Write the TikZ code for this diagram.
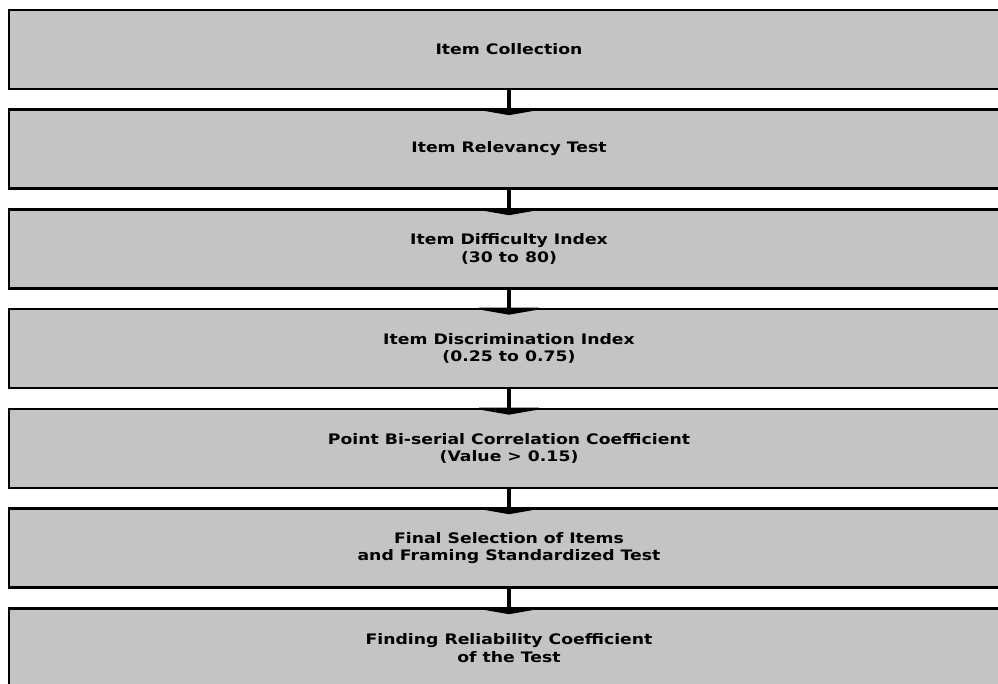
\documentclass[tikz,border=0pt]{standalone}
\usepackage{fontspec}
\setmainfont{DejaVu Sans}[FakeStretch=1.19]
\usetikzlibrary{arrows.meta}
\definecolor{boxgray}{HTML}{C4C4C4}
\begin{document}
\begin{tikzpicture}[x=1pt,y=1pt,
  stepbox/.style={draw=black, line width=2.6pt, fill=boxgray, minimum width=1000pt, minimum height=79pt,
    inner sep=0pt, align=center, font=\fontsize{14.5}{17.5}\selectfont\bfseries},
  conn/.style={line width=4.5pt, -{Triangle[width=80pt,length=7pt]}, shorten >=-7pt}]
\useasboundingbox (0,0) rectangle (998,-683);
\clip (0,0) rectangle (998,-683);
\fill[white] (0,0) rectangle (998,-683);
\node[stepbox] (b1) at (509,-49.5) {Item Collection};
\node[stepbox] (b2) at (509,-149) {Item Relevancy Test};
\node[stepbox] (b3) at (509,-249) {Item Difficulty Index\\(30 to 80)};
\node[stepbox] (b4) at (509,-348.5) {Item Discrimination Index\\(0.25 to 0.75)};
\node[stepbox] (b5) at (509,-448.5) {Point Bi-serial Correlation Coefficient\\(Value > 0.15)};
\node[stepbox] (b6) at (509,-548) {Final Selection of Items\\and Framing Standardized Test};
\node[stepbox] (b7) at (509,-648) {Finding Reliability Coefficient\\of the Test};
\foreach \a/\b in {b1/b2,b2/b3,b3/b4,b4/b5,b5/b6,b6/b7}
  \draw[conn] (\a.south) -- (\b.north);
\end{tikzpicture}
\end{document}
